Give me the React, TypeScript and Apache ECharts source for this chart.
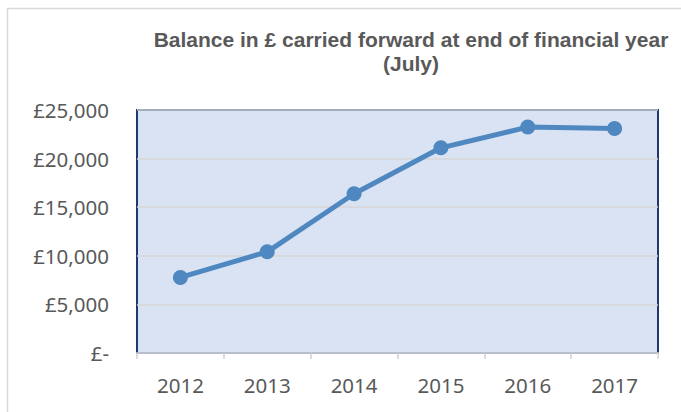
import React, { useEffect, useRef } from "react";
import * as echarts from "echarts";

const years = ["2012", "2013", "2014", "2015", "2016", "2017"];
const balances = [7770, 10410, 16380, 21110, 23240, 23100];
const titleLines = ["Balance in £ carried forward at end of financial year", "(July)"];

function fmt(v: number): string {
  if (v === 0) return "£-";
  return "£" + v.toLocaleString("en-GB");
}

export default function App() {
  const ref = useRef<HTMLDivElement>(null);
  useEffect(() => {
    if (!ref.current) return;
    const chart = echarts.init(ref.current, undefined, { renderer: "svg" });
    chart.setOption({
      animation: false,
      backgroundColor: "#ffffff",
      graphic: [
        {
          type: "rect",
          shape: { x: 7.5, y: 8.5, width: 700, height: 420 },
          style: { fill: "none", stroke: "#d9d9d9", lineWidth: 1.5 },
          z: 0,
        },
        {
          type: "text",
          x: 411,
          y: 39,
          style: {
            text: titleLines[0],
            textAlign: "center",
            textVerticalAlign: "middle",
            fontFamily: "Liberation Sans",
            fontWeight: "bold",
            fontSize: 21,
            fill: "#595959",
          },
        },
        {
          type: "text",
          x: 411,
          y: 63,
          style: {
            text: titleLines[1],
            textAlign: "center",
            textVerticalAlign: "middle",
            fontFamily: "Liberation Sans",
            fontWeight: "bold",
            fontSize: 21,
            fill: "#595959",
          },
        },
      ],
      grid: {
        left: 137,
        right: 23,
        top: 110,
        bottom: 59,
        show: true,
        backgroundColor: "#dae3f3",
        borderColor: "#1f3a6e",
        borderWidth: 2,
      },
      xAxis: {
        type: "category",
        data: years,
        boundaryGap: true,
        axisLine: { show: true, lineStyle: { color: "#b8bfcc", width: 2 } },
        axisTick: { show: true, alignWithLabel: false, length: 6, lineStyle: { color: "#d0d0d0", width: 1.5 } },
        axisLabel: {
          margin: 21,
          fontFamily: "Noto Sans",
          fontSize: 20.5,
          color: "#595959",
        },
      },
      yAxis: {
        type: "value",
        min: 0,
        max: 25000,
        interval: 5000,
        axisLine: { show: false },
        axisTick: { show: false },
        splitLine: { show: true, lineStyle: { color: "#d6d6d6", width: 1.5 } },
        axisLabel: {
          margin: 28,
          formatter: (v: number) => fmt(v),
          fontFamily: "Noto Sans",
          fontSize: 20.5,
          color: "#595959",
        },
      },
      series: [
        {
          type: "line",
          data: balances,
          symbol: "circle",
          symbolSize: 15,
          lineStyle: { color: "#4f88c0", width: 5 },
          itemStyle: { color: "#4f88c0" },
          z: 5,
        },
      ],
    });
    return () => chart.dispose();
  }, []);
  return <div ref={ref} style={{ width: 681, height: 412, position: "absolute", left: 0, top: 0 }} />;
}
